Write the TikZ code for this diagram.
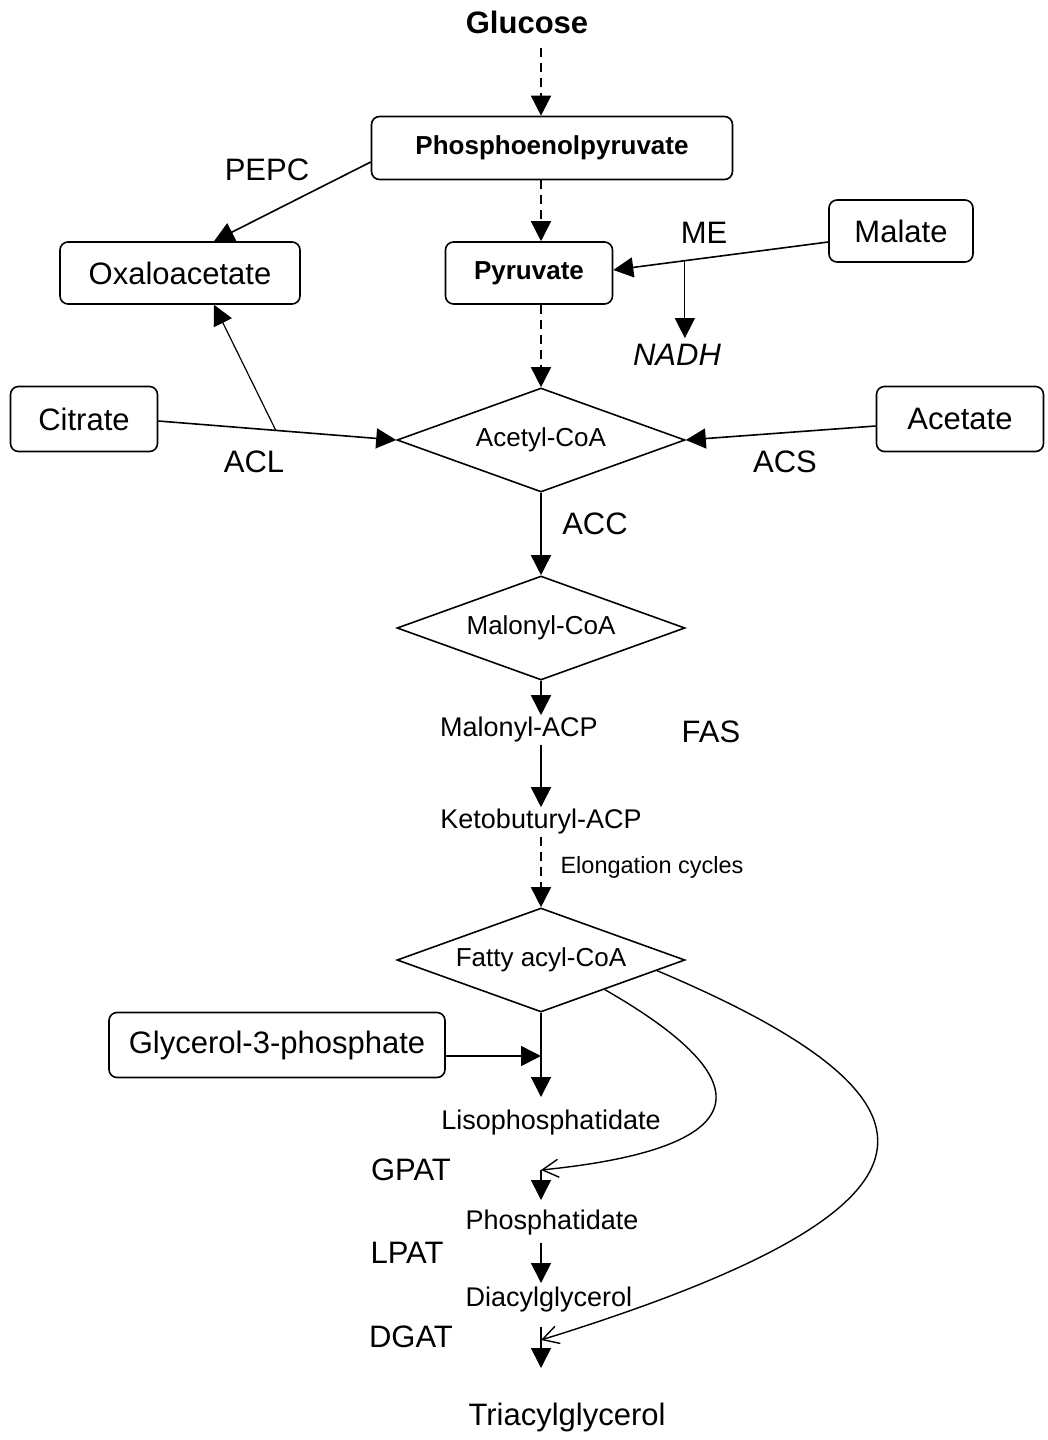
\documentclass[tikz,border=0pt]{standalone}
\usepackage{fontspec}
\setmainfont{Liberation Sans}
\usetikzlibrary{shapes.geometric,arrows.meta,positioning,calc}

\tikzset{
  big/.style={font=\fontsize{31}{36}\selectfont, inner sep=2pt},
  small/.style={font=\fontsize{27}{32}\selectfont, inner sep=2pt},
  box/.style={draw, rounded corners=8pt, line width=1.6pt, inner sep=0pt, font=\fontsize{31}{36}\selectfont},
  boldbox/.style={box, font=\fontsize{26}{30}\selectfont\bfseries},
  metab/.style={diamond, aspect=3, draw, line width=1.6pt, minimum width=288pt, minimum height=104pt, inner sep=0pt, font=\fontsize{26}{30}\selectfont},
  arr/.style={-{Triangle[length=20pt,width=20pt]}, line width=1.6pt},
  dasharr/.style={arr, dash pattern=on 9pt off 6pt},
  openarr/.style={-{Straight Barb[length=16pt,width=18pt]}, line width=1.4pt},
}

\begin{document}
\begin{tikzpicture}[x=1pt,y=-1pt]
\useasboundingbox (0,0) rectangle (1048,1440);

% upper part
\node[font=\fontsize{31}{36}\selectfont\bfseries, inner sep=14pt] (glucose) at (527,22) {Glucose};
\node[boldbox, minimum width=361pt, minimum height=63pt] (pep) at (552,148) {Phosphoenolpyruvate};
\node[boldbox, minimum width=167pt, minimum height=62pt] (pyr) at (529,273) {Pyruvate};
\node[box, minimum width=240pt, minimum height=62pt] (oxalo) at (180,273) {Oxaloacetate};
\node[box, minimum width=144pt, minimum height=62pt] (malate) at (901,231) {Malate};
\node[big] (pepc) at (267,170) {PEPC};
\node[big] (me) at (704,233) {ME};
\node[big, font=\fontsize{31}{36}\selectfont\itshape, inner sep=6pt] (nadh) at (677,355) {NADH};

\node[metab] (acetyl) at (541,440) {Acetyl-CoA};
\node[box, minimum width=147pt, minimum height=65pt] (citrate) at (84,419) {Citrate};
\node[box, minimum width=167pt, minimum height=65pt] (acetate) at (960,419) {Acetate};
\node[big] (acl) at (254,462) {ACL};
\node[big] (acs) at (785,462) {ACS};
\node[big] (acc) at (595,524) {ACC};

% fatty acid synthesis
\node[metab] (malonyl) at (541,628) {Malonyl-CoA};
\node[small] (malacp) at (519,730) {Malonyl-ACP};
\node[big] (fas) at (711,732) {FAS};
\node[small] (keto) at (541,822) {Ketobuturyl-ACP};
\node[font=\fontsize{23.5}{28}\selectfont, inner sep=2pt] (elong) at (652,867) {Elongation cycles};
\node[metab] (fatty) at (541,960) {Fatty acyl-CoA};

% glycerolipids
\node[box, minimum width=336pt, minimum height=65pt] (glyc) at (277,1045) {Glycerol-3-phosphate};
\node[small] (lyso) at (551,1123) {Lisophosphatidate};
\node[big] (gpat) at (411,1170) {GPAT};
\node[small] (phos) at (552,1223) {Phosphatidate};
\node[big] (lpat) at (407,1253) {LPAT};
\node[small] (dag) at (549,1300) {Diacylglycerol};
\node[big] (dgat) at (411,1337) {DGAT};
\node[big] (tag) at (567,1417) {Triacylglycerol};

\coordinate (g3pin) at (541,1056);
\coordinate (lysoin) at (541,1097);
\coordinate (gpatA) at (541,1170);
\coordinate (gpatB) at (541,1200);
\coordinate (lpatA) at (541,1243);
\coordinate (lpatB) at (541,1283);
\coordinate (dgatA) at (541,1327);
\coordinate (dgatB) at (541,1368);

% connectors
\draw[dasharr] (glucose.south -| acetyl.north) -- (pep.north -| acetyl.north);
\draw[dasharr] (pep.south -| acetyl.north) -- (pyr.north -| acetyl.north);
\draw[dasharr] (pyr.south -| acetyl.north) -- (acetyl.north);
\draw[arr] ([yshift=-14pt]pep.west) -- ([xshift=34pt]oxalo.north);
\draw[arr] ([yshift=-11pt]malate.west) -- coordinate[pos=0.667] (mept) ([yshift=3pt]pyr.east);
\draw[arr, line width=1.2pt] (mept) -- (mept |- nadh.north);
\draw[arr] ([yshift=-2pt]citrate.east) -- coordinate[pos=0.494] (aclpt) (acetyl.west);
\draw[arr, line width=1.2pt] (aclpt) -- ([xshift=34pt]oxalo.south);
\draw[arr] ([yshift=-7pt]acetate.west) -- (acetyl.east);
\draw[arr] (acetyl.south) -- (malonyl.north);
\draw[arr] (malonyl.south) -- (malacp.north -| malonyl.south);
\draw[arr] (malacp.south -| malonyl.south) -- (keto.north);
\draw[dasharr] (keto.south) -- (fatty.north);
\draw[arr] (fatty.south) -- (lysoin);
\draw[arr] ([yshift=-11pt]glyc.east) -- (g3pin);
\draw[arr] (gpatA) -- (gpatB);
\draw[arr] (lpatA) -- (lpatB);
\draw[arr] (dgatA) -- (dgatB);
\draw[openarr] ($(fatty.east)!0.56!(fatty.south)$) .. controls (780,1090) and (740,1150) .. (gpatA);
\draw[openarr] ($(fatty.east)!0.2!(fatty.south)$) .. controls (975,1105) and (960,1210) .. ([yshift=-13pt]dgatA);
\end{tikzpicture}
\end{document}
